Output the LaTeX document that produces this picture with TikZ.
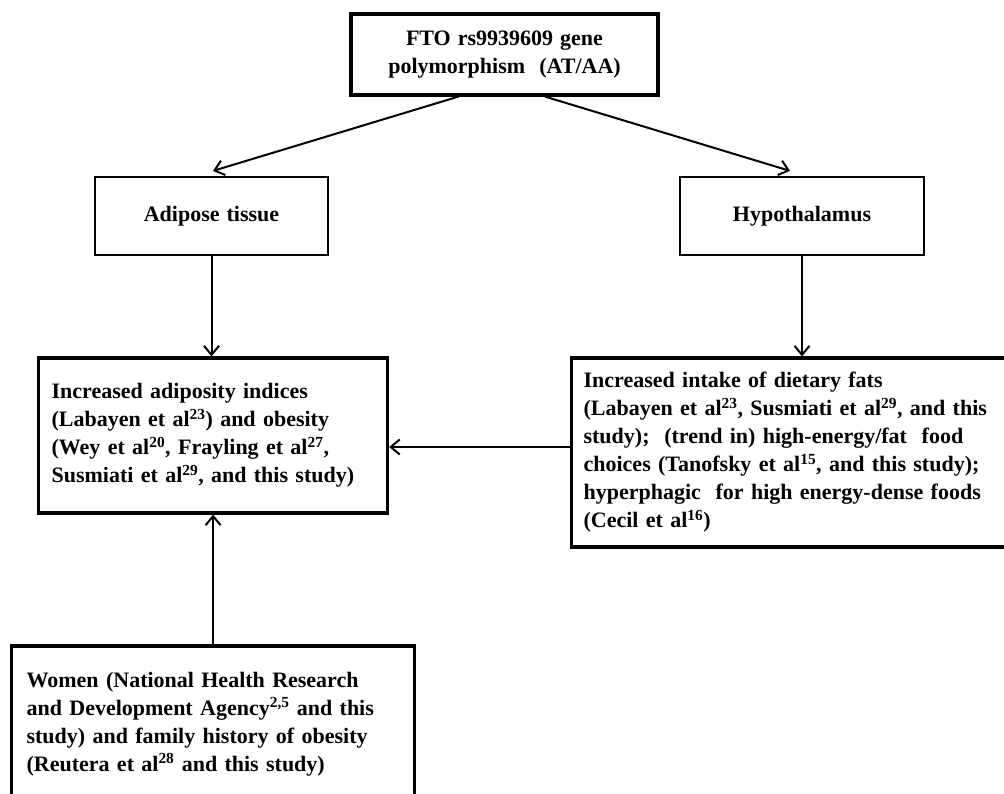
\documentclass[tikz,border=0pt]{standalone}
\usepackage{fontspec}
\setmainfont{Liberation Serif}
\usepackage{tikz}
\usetikzlibrary{arrows.meta}
\usetikzlibrary{positioning}
\newcommand{\boxfont}{\fontsize{22}{28}\selectfont\bfseries\spaceskip=0.32em plus 0.1em\relax}
\tikzset{>={Straight Barb[length=9pt,width=15pt]}}
\tikzstyle{heavybox} = [draw, line width=3.2pt, inner ysep=0, align=left, font=\boxfont]
\tikzstyle{lightbox} = [draw, line width=2.2pt, inner ysep=0, align=center, font=\boxfont]
\tikzstyle{link} = [->, line width=2pt]

\begin{document}
\begin{tikzpicture}[x=1pt, y=-1pt]
\clip (0,0) rectangle (1004,794);
\node [heavybox, align=center, minimum width=307pt, minimum height=81pt] (fto) at (504.5,54.5) {FTO rs9939609 gene\\polymorphism\ \ (AT/AA)};
\node [lightbox, minimum width=233pt, minimum height=78pt] (adipose) at (211.5,216) {Adipose tissue};
\node [lightbox, minimum width=244pt, minimum height=78pt] (hypo) at (802,216) {Hypothalamus};
\node [heavybox, anchor=west, text width=323pt, inner xsep=13pt, minimum height=155pt] (adiposity) at (37,435.5) {Increased adiposity indices\\(Labayen et al\textsuperscript{23}) and obesity\\(Wey et al\textsuperscript{20}, Frayling et al\textsuperscript{27},\\Susmiati et al\textsuperscript{29}, and this study)};
\node [heavybox, anchor=west, text width=420pt, inner xsep=12pt, minimum height=189pt] (intake) at (570,452.5) {Increased intake of dietary fats\\(Labayen et al\textsuperscript{23}, Susmiati et al\textsuperscript{29}, and this\\study);\ \ (trend in) high-energy/fat\ \ food\\choices (Tanofsky et al\textsuperscript{15}, and this study);\\hyperphagic\ \ for high energy-dense foods\\(Cecil et al\textsuperscript{16})};
\node [heavybox, anchor=west, text width=373pt, inner xsep=15pt, minimum height=156pt] (women) at (10,724) {Women (National Health Research\\and Development Agency\textsuperscript{2,5} and this\\study) and family history of obesity\\(Reutera et al\textsuperscript{28} and this study)};
% arrows
\draw [link] ([xshift=-46pt]fto.south) -- ([xshift=1.5pt, yshift=5pt]adipose.north);
\draw [link] ([xshift=40.5pt]fto.south) -- ([xshift=-12pt, yshift=5pt]hypo.north);
\draw [link] (adipose.south) -- (adipose.south |- adiposity.north);
\draw [link] (hypo.south) -- (hypo.south |- intake.north);
\draw [link] ([yshift=5.5pt]intake.west) -- ([yshift=5.5pt]intake.west -| adiposity.east);
\draw [link] (women.north) -- (adiposity.south);
\end{tikzpicture}
\end{document}
